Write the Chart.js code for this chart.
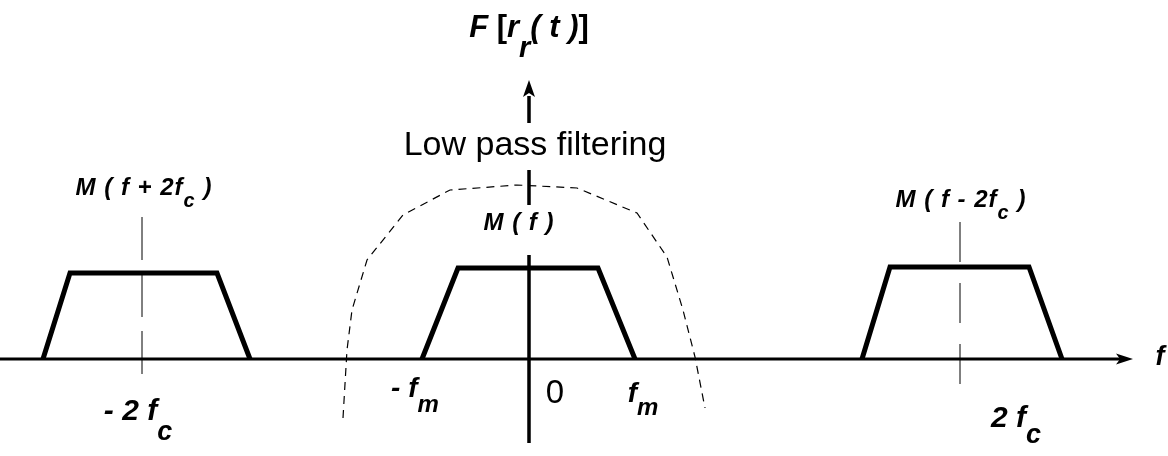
<!DOCTYPE html>
<html>
<head>
<meta charset="utf-8">
<title>Low pass filtering</title>
<script src="https://cdn.jsdelivr.net/npm/chart.js@4/dist/chart.umd.min.js"></script>
<style>
  body { margin: 0; background: #fff; }
  #wrap { width: 1168px; height: 456px; }
</style>
</head>
<body>
<div id="wrap"><canvas id="spectrum" width="1168" height="456"></canvas></div>
<script>
// frequency axis units: 0 at the origin, fm ~ 106, 2fc ~ 431
var axisX = [-529, 596];
var axisY = [0, 0];

var vertX = [0, 0, 0, 0, 0, 0, 0, 0];
var vertY = [263, 236, null, 189, 154, null, 104, -84];

// M(f + 2fc)
var lowerX = [-486, -459, -312, -279];
var lowerY = [0, 86, 86, 0];
// M(f)
var baseX = [-107, -71, 69, 106];
var baseY = [0, 91, 91, 0];
// M(f - 2fc)
var upperX = [333, 361, 500, 533];
var upperY = [0, 92, 92, 0];

// low pass filter response (dashed)
var filterX = [-186, -182, -177, -162, -126, -79, -12, 48, 108, 138, 154, 166, 176];
var filterY = [-59, 9, 49, 99, 144, 169, 174, 171, 146, 102, 49, 2, -49];

// carrier marks at -2fc and 2fc
var leftMarkX = [-387, -387];
var leftMarkY = [142, -29];
var rightMarkX = [431, 431];
var rightMarkY = [137, -34];

function pts(xs, ys) {
    return xs.map(function (x, i) { return { x: x, y: ys[i] }; });
}

var FONT = '"Liberation Sans", Arial, sans-serif';

// text labels: parts are [text, isSubscript, optional style override]
var labels = [
    { parts: [['F ', 0], ['[', 0, 'bold'], ['r', 0], ['r', 1], ['( t )', 0], [']', 0, 'bold']], x: 0, y: 322, size: 31, sub: 29, shift: 20, style: 'italic bold' },
    { parts: [['Low pass filtering', 0]], x: 6, y: 204, size: 34, style: '' },
    { parts: [['M ( f )', 0]], x: -10, y: 129, size: 24, spacing: 1, style: 'italic bold' },
    { parts: [['M ( f + 2f', 0], ['c', 1], [' )', 0]], x: -385, y: 164, size: 24, sub: 20, shift: 12, spacing: 1, style: 'italic bold' },
    { parts: [['M ( f - 2f', 0], ['c', 1], [' )', 0]], x: 432, y: 152, size: 24, sub: 20, shift: 12, spacing: 1, style: 'italic bold' },
    { parts: [['- 2 f', 0], ['c', 1]], x: -391, y: -61, size: 30, sub: 27, shift: 20, style: 'italic bold' },
    { parts: [['2 f', 0], ['c', 1]], x: 487, y: -68, size: 30, sub: 27, shift: 16, style: 'italic bold' },
    { parts: [['- f', 0], ['m', 1]], x: -114, y: -38, size: 28, sub: 24, shift: 15, style: 'italic bold' },
    { parts: [['0', 0]], x: 26, y: -44, size: 33, style: '' },
    { parts: [['f', 0], ['m', 1]], x: 114, y: -43, size: 28, sub: 24, shift: 13, style: 'italic bold' },
    { parts: [['f', 0]], x: 631, y: -6, size: 27, style: 'italic bold' }
];

// arrow heads: tip, direction
var arrows = [
    { x: 604, y: 0, dir: 'right', len: 17, half: 5.5 },
    { x: 0, y: 279, dir: 'up', len: 17, half: 6 }
];

var overlay = {
    id: 'overlay',
    afterDatasetsDraw: function (chart) {
        var ctx = chart.ctx;
        var sx = chart.scales.x, sy = chart.scales.y;
        ctx.save();
        ctx.fillStyle = '#000';

        arrows.forEach(function (a) {
            var px = sx.getPixelForValue(a.x), py = sy.getPixelForValue(a.y);
            ctx.beginPath();
            if (a.dir === 'right') {
                ctx.moveTo(px, py);
                ctx.lineTo(px - a.len, py - a.half);
                ctx.lineTo(px - a.len + 4, py);
                ctx.lineTo(px - a.len, py + a.half);
            } else {
                ctx.moveTo(px, py);
                ctx.lineTo(px - a.half, py + a.len);
                ctx.lineTo(px, py + a.len - 4);
                ctx.lineTo(px + a.half, py + a.len);
            }
            ctx.closePath();
            ctx.fill();
        });

        ctx.textBaseline = 'alphabetic';
        ctx.textAlign = 'left';
        labels.forEach(function (l) {
            ctx.letterSpacing = (l.spacing || 0) + 'px';
            function setFont(p) {
                ctx.font = (p[2] || l.style) + ' ' + (p[1] ? l.sub : l.size) + 'px ' + FONT;
            }
            var widths = l.parts.map(function (p) {
                setFont(p);
                return ctx.measureText(p[0]).width;
            });
            var total = widths.reduce(function (a, b) { return a + b; }, 0);
            var px = sx.getPixelForValue(l.x) - total / 2;
            var py = sy.getPixelForValue(l.y);
            l.parts.forEach(function (p, i) {
                setFont(p);
                ctx.fillText(p[0], px, py + (p[1] ? l.shift : 0));
                px += widths[i];
            });
        });
        ctx.letterSpacing = '0px';
        ctx.restore();
    }
};

function lineSet(data, width, dash) {
    return {
        data: data,
        showLine: true,
        borderColor: '#000',
        borderWidth: width,
        borderDash: dash || [],
        pointRadius: 0,
        tension: 0,
        spanGaps: false,
        clip: false,
        borderJoinStyle: 'miter',
        borderCapStyle: 'butt'
    };
}

var ctx = document.getElementById('spectrum').getContext('2d');
var chart = new Chart(ctx, {
    type: 'scatter',
    data: {
        datasets: [
            lineSet(pts(filterX, filterY), 1.2, [8, 6]),
            lineSet(pts(leftMarkX, leftMarkY), 1, [43, 14]),
            lineSet(pts(rightMarkX, rightMarkY), 1, [40, 21]),
            lineSet(pts(axisX, axisY), 3),
            lineSet(pts(vertX, vertY), 3.5),
            lineSet(pts(lowerX, lowerY), 5),
            lineSet(pts(baseX, baseY), 5),
            lineSet(pts(upperX, upperY), 5)
        ]
    },
    options: {
        responsive: false,
        devicePixelRatio: 1,
        animation: false,
        layout: { padding: 0 },
        plugins: {
            legend: { display: false },
            tooltip: { enabled: false }
        },
        scales: {
            x: { type: 'linear', min: -529, max: 639, display: false },
            y: { type: 'linear', min: -97, max: 359, display: false }
        }
    },
    plugins: [overlay]
});
</script>
</body>
</html>
